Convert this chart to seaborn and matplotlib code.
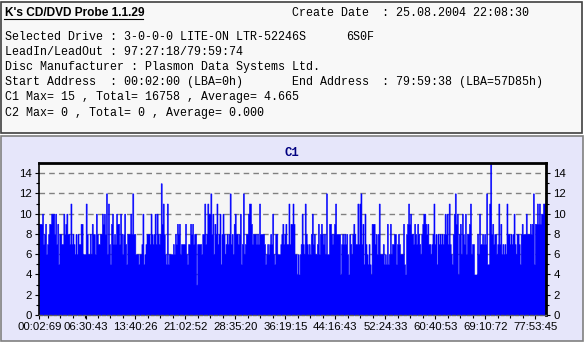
import numpy as np
import pandas as pd
import matplotlib
matplotlib.use("Agg")
import matplotlib.pyplot as plt
from matplotlib.patches import Rectangle
from matplotlib.lines import Line2D
from matplotlib.ticker import FixedLocator, NullFormatter
import seaborn as sns

# ---- data: C1 error counts, read left to right ----
c1_part1 = [9,9,9,10,7,8,9,6,7,8,9,9,10,10,10,8,10,7,9,5,8,8,7,7,10,8,9,10,8,8,7,11,7,8,7,6,8,6,8,7,7,9,9,6,6,6,11,8,6,6,8,6,9,8,8,6,10,8,7,7,8,8,10,9,10,8,12,6,11]
c1_part2 = [7,5,9,10,7,8,7,10,9,9,7,10,8,6,8,10,7,5,8,8,8,10,8,12,8,8,6,6,6,5,6,6,7,10,5,6,7,8,8,8,7,10,8,7,8,10,7,10,8,7,8,13,9,11,8,6,5,11,5,6,6,6,6,7,6,8,7,9,8,9,6,7]
c1_part3 = [7,7,7,9,6,5,7,7,9,8,9,7,8,8,3,7,7,7,7,6,8,8,11,7,8,11,10,10,12,8,10,6,9,8,11,7,8,10,5,8,10,8,6,7,8,7,8,12,7,8,6,9,10,8,8,7,8,10,5,7,12,6,7,8,8,10,11,11,9,7,8,8,8]
c1_part4 = [7,8,7,11,8,8,8,8,7,5,6,7,6,7,8,7,10,6,5,8,8,6,6,6,7,8,9,7,8,9,7,7,11,7,9,9,11,9,6,6,4,6,4,6,7,10,7,6,11,8,7,6,7,6,8,10,7,8,6,6,7,9,6,8,9,8,7,8,6,12,6,6]
c1_part5 = [9,9,8,7,8,9,11,8,8,8,8,4,7,8,7,8,7,8,6,4,8,7,6,8,9,8,7,7,11,7,11,12,7,9,5,10,7,6,5,7,5,4,9,9,9,7,8,6,8,11,6,6,6,7,5,6,5,9,5,6,9,6,7,7,8,8,5,7,8,7,6,6,6]
c1_part6 = [9,5,4,8,9,11,9,10,8,8,7,9,8,7,9,8,7,6,8,9,10,10,9,8,9,7,7,6,7,8,11,7,8,5,8,7,8,7,8,7,8,10,8,10,7,11,7,6,5,8,10,12,9,10,4,8,9,6,10,8,7,10,6,8,8,9,11,6,7,7,4,4,4]
c1_part7 = [8,6,10,7,7,8,7,8,7,12,5,5,11,15,8,9,7,8,8,6,7,11,7,9,6,7,6,7,6,11,8,8,7,8,7,8,10,7,6,8,8,7,5,8,9,8,8,8,10,8,8,8,9,8,9,12,5,9,9,11,9,11,9,10,10,11,11,10]

x_tick_labels = ["00:02:69", "06:30:43", "13:40:26", "21:02:52", "28:35:20", "36:19:15",
                 "44:16:43", "52:24:33", "60:40:53", "69:10:72", "77:53:45"]
y_ticks = [0, 2, 4, 6, 8, 10, 12, 14]
y_minor_ticks = [1, 3, 5, 7, 9, 11, 13]

c1 = c1_part1 + c1_part2 + c1_part3 + c1_part4 + c1_part5 + c1_part6 + c1_part7
N = len(c1)
df = pd.DataFrame({"idx": np.arange(N), "c1": c1})

W, H = 585, 343
fig = plt.figure(figsize=(W / 100, H / 100), dpi=100)
fig.patch.set_facecolor("white")

def fx(x):
    return x / W

def fy(y):
    return 1 - y / H

# info box
fig.add_artist(Rectangle((fx(1), fy(133)), 581 / W, 131 / H, transform=fig.transFigure,
                         facecolor="#F8F8F8", edgecolor="#404040", lw=1.2, zorder=-2))
# chart panel
fig.add_artist(Rectangle((fx(1), fy(341)), 582 / W, 205 / H, transform=fig.transFigure,
                         facecolor="#E6E6FA", edgecolor="#808080", lw=1.2, zorder=-2))

mono = dict(family="Liberation Mono", fontsize=8.4, color="black", va="center", ha="left")

fig.text(fx(5), fy(13), "K's CD/DVD Probe 1.1.29", family="Liberation Sans", weight="bold",
         fontsize=8.6, va="center", ha="left", color="black")
fig.add_artist(Line2D([fx(4), fx(143)], [fy(19), fy(19)], transform=fig.transFigure,
                      color="black", lw=0.8))
fig.text(fx(292), fy(13), "Create Date", **mono)
fig.text(fx(382), fy(13), ": 25.08.2004 22:08:30", **mono)

fig.text(fx(5), fy(37), "Selected Drive : 3-0-0-0 LITE-ON LTR-52246S", **mono)
fig.text(fx(346), fy(37), "6S0F", **mono)
fig.text(fx(5), fy(52), "LeadIn/LeadOut : 97:27:18/79:59:74", **mono)
fig.text(fx(5), fy(67), "Disc Manufacturer : Plasmon Data Systems Ltd.", **mono)
fig.text(fx(5), fy(82), "Start Address  : 00:02:00 (LBA=0h)", **mono)
fig.text(fx(292), fy(82), "End Address", **mono)
fig.text(fx(382), fy(82), ": 79:59:38 (LBA=57D85h)", **mono)
fig.text(fx(5), fy(97), "C1 Max= 15 , Total= 16758 , Average= 4.665", **mono)
fig.text(fx(5), fy(113), "C2 Max= 0 , Total= 0 , Average= 0.000", **mono)

fig.text(fx(292), fy(152.5), "C1", family="Liberation Mono", weight="bold", fontsize=8.8,
         color="#000080", ha="center", va="center")

# plot area
L, R, T, B = 39, 546, 163, 315
ax = fig.add_axes([fx(L), fy(B), (R - L) / W, (B - T) / H])
ax.set_zorder(2)
ax.set_facecolor("#F5F5F5")

sns.histplot(data=df, x="idx", weights="c1", discrete=True, element="step", fill=True,
             color="#0000FF", alpha=1, linewidth=0.4, edgecolor="#0000FF", ax=ax, zorder=2)

ax.set_xlim(-0.5, N - 0.5)
ax.set_ylim(0, 15)
ax.set_xlabel("")
ax.set_ylabel("")

def px_to_x(p):
    return (p - L) / (R - L) * N - 0.5

major_px = [39.3, 85.7] + [135.3 + 50 * k for k in range(9)]
minor_px = [535.3 - 12.5 * k for k in range(40) if 535.3 - 12.5 * k > 40]
ax.xaxis.set_major_locator(FixedLocator([px_to_x(p) for p in major_px]))
ax.xaxis.set_minor_locator(FixedLocator([px_to_x(p) for p in minor_px]))
ax.set_xticklabels(x_tick_labels)
ax.xaxis.set_minor_formatter(NullFormatter())

ax.yaxis.set_major_locator(FixedLocator(y_ticks))
ax.yaxis.set_minor_locator(FixedLocator(y_minor_ticks))
ax.set_yticklabels([str(v) for v in y_ticks])

ax.tick_params(axis="both", which="major", labelsize=8.2, length=3.2, width=0.8,
               color="black", pad=2, direction="out")
ax.tick_params(axis="both", which="minor", length=2, width=0.8, color="black", direction="out")
ax.tick_params(axis="y", which="both", left=True, right=True, labelleft=True, labelright=True)
for lab in ax.get_xticklabels() + ax.get_yticklabels():
    lab.set_family("Liberation Sans")

for v in y_ticks[1:]:
    ax.axhline(v, color="#808080", lw=1, linestyle=(0, (4, 3)), zorder=1)

ax.spines["top"].set_linewidth(2)
ax.spines["top"].set_color("black")
ax.spines["right"].set_linewidth(2)
ax.spines["right"].set_color("black")
ax.spines["left"].set_linewidth(1.2)
ax.spines["left"].set_color("black")
ax.spines["bottom"].set_linewidth(1)
ax.spines["bottom"].set_color("#606060")
ax.spines["bottom"].set_linestyle((0, (2, 1.5)))

fig.savefig("out.png", dpi=100)
